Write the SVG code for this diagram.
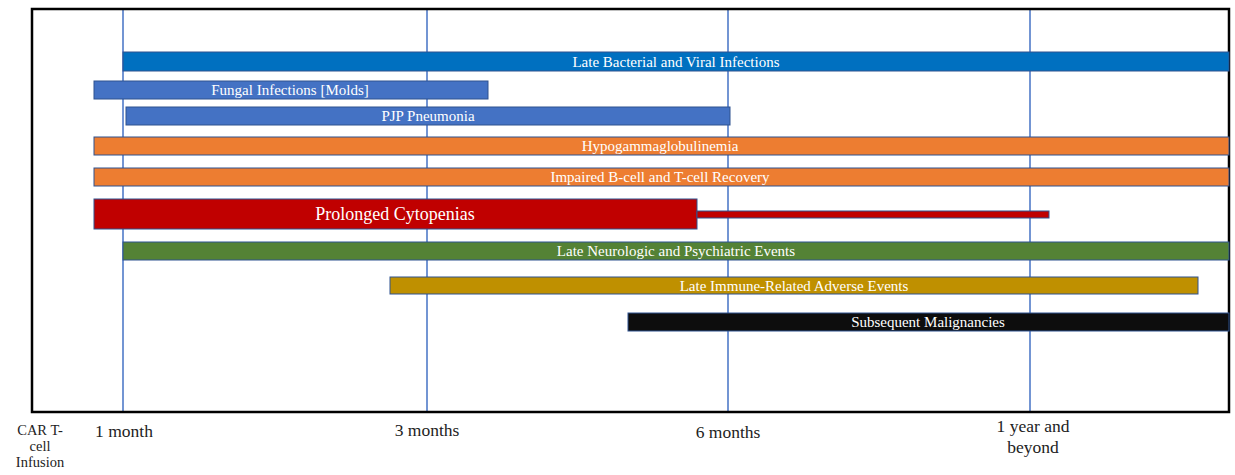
<svg xmlns="http://www.w3.org/2000/svg" width="1235" height="475" viewBox="0 0 1235 475">
<style>
.bar{stroke:#2F528F;stroke-width:1}
.lbl{font-family:"Liberation Serif","DejaVu Serif",serif;font-size:15px;fill:#ffffff;text-anchor:middle;dominant-baseline:central}
.ax{font-family:"Liberation Serif","DejaVu Serif",serif;font-size:17.5px;fill:#222222;text-anchor:middle}
.grid{stroke:#4472C4;stroke-width:1.5}
</style>
<rect width="1235" height="475" fill="#ffffff"/>
<g id="grid">
<line class="grid" x1="123" y1="9" x2="123" y2="411"/>
<line class="grid" x1="427" y1="9" x2="427" y2="411"/>
<line class="grid" x1="728" y1="9" x2="728" y2="411"/>
<line class="grid" x1="1030" y1="9" x2="1030" y2="411"/>
</g>
<rect id="frame" x="32" y="9" width="1197" height="403" fill="none" stroke="#000000" stroke-width="2.5"/>
<g id="bacterial"><rect class="bar" x="123" y="52" width="1106" height="19" fill="#0070C0"/><text class="lbl" x="676" y="62">Late Bacterial and Viral Infections</text></g>
<g id="fungal"><rect class="bar" x="94" y="81" width="394" height="18" fill="#4472C4"/><text class="lbl" x="290" y="90">Fungal Infections [Molds]</text></g>
<g id="pjp"><rect class="bar" x="126" y="107" width="604" height="18" fill="#4472C4"/><text class="lbl" x="428" y="116">PJP Pneumonia</text></g>
<g id="hypogamma"><rect class="bar" x="94" y="137" width="1135" height="18" fill="#ED7D31"/><text class="lbl" x="660" y="146">Hypogammaglobulinemia</text></g>
<g id="impaired"><rect class="bar" x="94" y="168" width="1135" height="18" fill="#ED7D31"/><text class="lbl" x="660" y="177">Impaired B-cell and T-cell Recovery</text></g>
<g id="cytopenias"><rect class="bar" x="94" y="199" width="603" height="30" fill="#C00000"/><rect class="bar" x="697" y="211" width="352" height="7" fill="#C00000"/><text class="lbl" x="395" y="214" style="font-size:18px">Prolonged Cytopenias</text></g>
<g id="neuro"><rect class="bar" x="123" y="242" width="1106" height="18" fill="#548235"/><text class="lbl" x="676" y="251">Late Neurologic and Psychiatric Events</text></g>
<g id="immune"><rect class="bar" x="390" y="277" width="808" height="17" fill="#BF9000"/><text class="lbl" x="794" y="286">Late Immune-Related Adverse Events</text></g>
<g id="malignancies"><rect class="bar" x="628" y="313" width="601" height="18" fill="#0D0D0D"/><text class="lbl" x="928" y="322">Subsequent Malignancies</text></g>
<g id="axis">
<text class="ax" x="40" y="435" style="font-size:14.5px">CAR T-</text>
<text class="ax" x="40" y="451" style="font-size:14.5px">cell</text>
<text class="ax" x="40" y="467" style="font-size:14.5px">Infusion</text>
<text class="ax" x="124" y="437">1 month</text>
<text class="ax" x="427" y="436">3 months</text>
<text class="ax" x="728" y="438">6 months</text>
<text class="ax" x="1033" y="432">1 year and</text>
<text class="ax" x="1033" y="453">beyond</text>
</g>
</svg>
